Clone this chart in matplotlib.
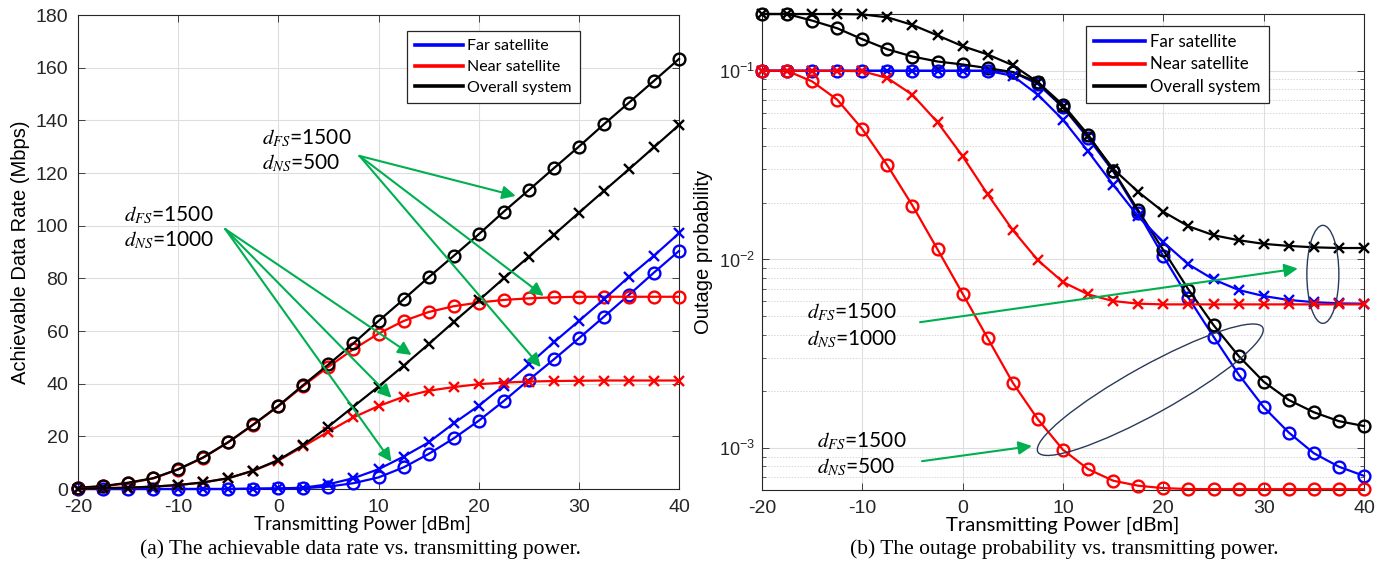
import matplotlib
matplotlib.use('Agg')
import matplotlib.pyplot as plt
from matplotlib.lines import Line2D
from matplotlib.patches import Ellipse
from matplotlib.transforms import IdentityTransform

plt.rcParams['font.family'] = ['Liberation Sans', 'DejaVu Sans']
plt.rcParams['mathtext.fontset'] = 'stix'
plt.rcParams['axes.unicode_minus'] = False

# transmit power grid (dBm)
p_dbm = [-20, -17.5, -15, -12.5, -10, -7.5, -5, -2.5, 0, 2.5, 5, 7.5, 10,
         12.5, 15, 17.5, 20, 22.5, 25, 27.5, 30, 32.5, 35, 37.5, 40]

# (a) achievable data rate, Mbps.  "_500" -> d_NS=500 (circles), "_1000" -> d_NS=1000 (crosses)
rate_far_500 = [0, 0, 0, 0, 0, 0, 0, 0.1, 0.2, 0.3, 0.9, 2.2, 4.4, 8.2, 13.3, 19.2,
                25.9, 33.4, 41.4, 49.2, 57.2, 65.4, 73.7, 82.2, 90.4]
rate_near_500 = [0.4, 1.0, 2.2, 4.0, 7.4, 11.9, 17.7, 24.4, 31.4, 39.2, 46.4, 53.1, 59.0,
                 63.8, 67.2, 69.4, 70.8, 71.8, 72.4, 72.8, 73.0, 73.0, 73.0, 73.0, 73.0]
rate_sum_500 = [0.5, 1.1, 2.4, 4.1, 7.5, 12.0, 17.8, 24.5, 31.6, 39.5, 47.3, 55.3, 63.8,
                72.0, 80.4, 88.5, 96.7, 105.3, 113.5, 121.8, 130.0, 138.5, 146.7, 155.0, 163.3]
rate_far_1000 = [0, 0, 0, 0, 0, 0, 0, 0.1, 0.2, 0.5, 1.8, 4.1, 7.5, 12.3, 17.7, 24.9,
                 31.6, 39.2, 47.3, 55.7, 63.8, 72.0, 80.6, 88.6, 97.1]
rate_near_1000 = [0.1, 0.3, 0.5, 0.9, 1.5, 2.5, 4.1, 6.9, 10.8, 16.2, 21.8, 27.2, 31.5,
                  35.0, 37.3, 38.7, 39.8, 40.4, 40.8, 41.0, 41.1, 41.2, 41.2, 41.2, 41.2]
rate_sum_1000 = [0.1, 0.3, 0.5, 0.9, 1.5, 2.5, 4.1, 7.0, 11.0, 16.7, 23.7, 31.3, 38.9,
                 46.8, 55.0, 63.4, 71.6, 80.0, 88.2, 96.5, 104.9, 113.2, 121.4, 129.8, 138.2]

# (b) outage probability
out_far_500 = [0.1, 0.1, 0.1, 0.1, 0.1, 0.1, 0.1, 0.1, 0.1, 0.1, 0.0985, 0.085, 0.064,
               0.044, 0.0293, 0.0177, 0.0104, 0.00627, 0.0039, 0.00246, 0.00165,
               0.00121, 0.00094, 0.000797, 0.000713]
out_near_500 = [0.1, 0.1, 0.0878, 0.0703, 0.0491, 0.0315, 0.0193, 0.0113, 0.00658,
                0.00382, 0.00222, 0.00142, 0.00098, 0.000774, 0.000672, 0.000632,
                0.000614, 0.000607, 0.000606, 0.000606, 0.000606, 0.000606, 0.000606,
                0.000606, 0.000606]
out_sum_500 = [0.2, 0.2, 0.1845, 0.168, 0.147, 0.130, 0.119, 0.112, 0.108, 0.1033, 0.0984,
               0.0868, 0.066, 0.0458, 0.0296, 0.0182, 0.0112, 0.00693, 0.00449, 0.00308,
               0.00225, 0.0018, 0.00155, 0.00139, 0.00131]
out_far_1000 = [0.1, 0.1, 0.1, 0.1, 0.1, 0.1, 0.1, 0.1, 0.1, 0.1, 0.094, 0.0746, 0.055,
                0.0374, 0.0249, 0.0169, 0.01236, 0.00942, 0.00784, 0.00689, 0.0064,
                0.0061, 0.00594, 0.00585, 0.00583]
out_near_1000 = [0.1, 0.1, 0.1, 0.1, 0.0995, 0.0915, 0.0746, 0.0533, 0.0352, 0.0221,
                 0.0143, 0.0099, 0.00759, 0.00653, 0.00602, 0.00583, 0.00578, 0.00578,
                 0.00578, 0.00578, 0.00578, 0.00578, 0.00578, 0.00578, 0.00578]
out_sum_1000 = [0.2, 0.2, 0.2, 0.2, 0.199, 0.192, 0.175, 0.154, 0.135, 0.122, 0.107,
                0.087, 0.064, 0.0452, 0.0302, 0.0228, 0.0179, 0.0150, 0.01345, 0.01265,
                0.0121, 0.0118, 0.0116, 0.0115, 0.0115]

legend_labels = ['Far satellite', 'Near satellite', 'Overall system']
xticks = [-20, -10, 0, 10, 20, 30, 40]

AX_C = '#262626'
GREEN = '#00b050'
NAVY = '#2b3a5c'

fig = plt.figure(figsize=(13.9, 5.73), dpi=100)
ax1 = fig.add_axes([78 / 1390, 1 - 489 / 573, 601 / 1390, 474 / 573])
ax2 = fig.add_axes([762 / 1390, 1 - 490 / 573, 602 / 1390, 476 / 573])


def style_axes(ax):
    for s in ax.spines.values():
        s.set_color(AX_C)
        s.set_linewidth(0.8)
    ax.tick_params(direction='in', top=True, right=True, length=5, width=0.6,
                   colors=AX_C, labelsize=14, pad=7)
    ax.tick_params(which='minor', direction='in', left=True, right=True, length=3,
                   width=0.5, colors=AX_C)
    ax.set_axisbelow(True)


def draw(ax, ys, colors, markers):
    for y, c, m in zip(ys, colors, markers):
        ax.plot(p_dbm, y, color=c, lw=1.6, marker=m, ms=8.5 if m == 'o' else 6.5,
                mfc='none', mew=1.7, clip_on=False, zorder=3)


def legend(ax, anchor, size, spacing):
    handles = [Line2D([], [], color=c, lw=2.6) for c in ['#0000ff', '#ff0000', '#000000']]
    leg = ax.legend(handles, legend_labels, loc='upper left', bbox_to_anchor=anchor,
                    fancybox=False, framealpha=1, edgecolor=AX_C,
                    handlelength=3.0, handletextpad=0.3, labelspacing=spacing,
                    borderpad=0.5, borderaxespad=0,
                    prop={'family': 'Lato', 'size': size})
    leg.get_frame().set_linewidth(0.9)
    leg.set_zorder(5)


def label(ax, x, y, sub, val):
    ax.text(x, y, '$d_{%s}$=%s' % (sub, val), fontsize=15, family='Lato',
            va='center', ha='left', zorder=6)


arrow_kw = dict(arrowstyle='-|>', color=GREEN, lw=1.5, mutation_scale=20,
                shrinkA=0, shrinkB=0)

# ---- (a) data rate ----
style_axes(ax1)
draw(ax1, [rate_far_500, rate_near_500, rate_sum_500,
           rate_far_1000, rate_near_1000, rate_sum_1000],
     ['#0000ff', '#ff0000', '#000000'] * 2, ['o'] * 3 + ['x'] * 3)
ax1.set_xlim(-20, 40)
ax1.set_ylim(0, 180)
ax1.set_xticks(xticks)
ax1.set_yticks(range(0, 181, 20))
ax1.grid(True, color='#dedede', lw=0.8)
ax1.set_xlabel('Transmitting Power [dBm]', family='Lato', fontsize=13.5)
ax1.xaxis.set_label_coords(0.474, -0.056)
ax1.set_ylabel('Achievable Data Rate (Mbps)', fontsize=14.5, labelpad=4)
legend(ax1, (0.547, 0.966), 11.5, 0.42)

label(ax1, -1.6, 133.3, 'FS', '1500')
label(ax1, -1.6, 123.8, 'NS', '500')
label(ax1, -15.4, 104.1, 'FS', '1500')
label(ax1, -15.4, 94.6, 'NS', '1000')
for tip in [(23.7, 111.3), (26.5, 73.3), (26.2, 46.3)]:
    ax1.annotate('', xy=tip, xytext=(8.1, 126.5), arrowprops=arrow_kw, zorder=4)
for tip in [(13.3, 50.9), (11.3, 34.6), (11.3, 10.3)]:
    ax1.annotate('', xy=tip, xytext=(-5.3, 98.7), arrowprops=arrow_kw, zorder=4)

# ---- (b) outage probability ----
style_axes(ax2)
ax2.set_yscale('log')
draw(ax2, [out_far_500, out_near_500, out_sum_500,
           out_far_1000, out_near_1000, out_sum_1000],
     ['#0000ff', '#ff0000', '#000000'] * 2, ['o'] * 3 + ['x'] * 3)
ax2.set_xlim(-20, 40)
ax2.set_ylim(6e-4, 0.2)
ax2.set_xticks(xticks)
ax2.grid(True, which='major', color='#dedede', lw=0.8)
ax2.grid(True, which='minor', axis='y', color='#d8d8d8', lw=0.7, ls=(0, (1.5, 1.5)))
ax2.tick_params(axis='y', which='minor', labelleft=False)
ax2.tick_params(axis='y', which='major', labelsize=13, pad=5)
ax2.set_xlabel('Transmitting Power [dBm]', family='Lato', fontsize=14.6)
ax2.xaxis.set_label_coords(0.5, -0.057)
ax2.set_ylabel('Outage probability', fontsize=14.5, labelpad=0)
ax2.yaxis.set_label_coords(-0.081, 0.5)
legend(ax2, (0.538, 0.975), 12.2, 0.36)

label(ax2, -15.5, 0.00525, 'FS', '1500')
label(ax2, -15.5, 0.00378, 'NS', '1000')
label(ax2, -14.5, 0.00109, 'FS', '1500')
label(ax2, -14.5, 0.000792, 'NS', '500')
ax2.annotate('', xy=(33.4, 0.00895), xytext=(-4.25, 0.00465), arrowprops=arrow_kw, zorder=4)
ax2.annotate('', xy=(6.9, 0.001026), xytext=(-4.05, 0.000853), arrowprops=arrow_kw, zorder=4)

# ellipses grouping curves, drawn in pixel space so they keep their shape on the log axis
for (cx, cy), w, h, ang in [((35.9, 0.00834), 32, 98, 0), ((18.7, 0.00204), 257, 48, 29)]:
    px, py = ax2.transData.transform((cx, cy))
    e = Ellipse((px, py), w, h, angle=ang, fill=False, ec=NAVY, lw=1.0,
                transform=IdentityTransform(), zorder=4)
    fig.add_artist(e)

fig.text(360 / 1390, 1 - 549 / 573, '(a) The achievable data rate vs. transmitting power.',
         family='Liberation Serif', fontsize=15.5, ha='center', va='center')
fig.text(1064 / 1390, 1 - 549 / 573, '(b) The outage probability vs. transmitting power.',
         family='Liberation Serif', fontsize=15.5, ha='center', va='center')

fig.savefig('out.png', dpi=100)
